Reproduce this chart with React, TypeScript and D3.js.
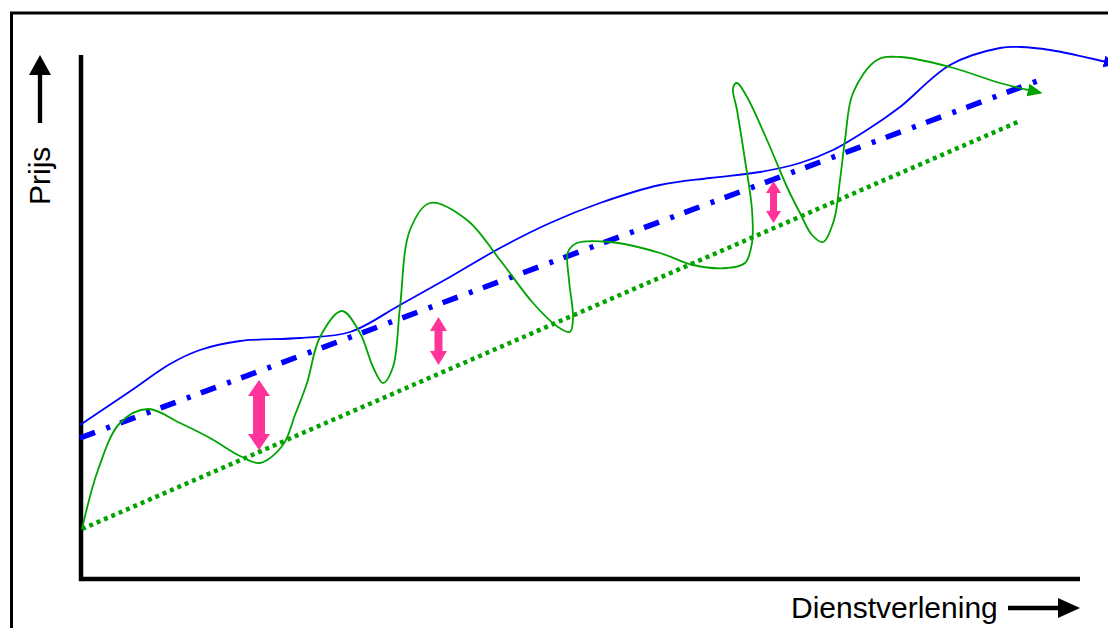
import React from 'react';
import * as d3 from 'd3';

// Data units: x = Dienstverlening (0..100), y = Prijs (0..100)
const blueTrendX = [0, 96];
const blueTrendY = [28, 99.6];

const greenTrendX = [0.2, 94];
const greenTrendY = [9.8, 91.4];

const blueCurveX = [0, 5.2, 9, 12, 16, 22, 27, 32, 37, 42, 47, 52, 58, 63, 68, 72, 75.3, 79, 82, 87, 92, 94, 97, 102.4];
const blueCurveY = [30.6, 37.6, 42.8, 45.6, 47.4, 48, 49.2, 54.6, 60.2, 66, 71, 75, 78.6, 80, 81.2, 83, 85.6, 90, 94.2, 102.6, 106, 106.2, 105.6, 103.3];

const greenCurveX = [0.2, 1.8, 4, 6.8, 10, 13, 16, 18, 20.3, 21.5, 22.7, 24, 26.2, 28, 29.3, 30.3, 31.3, 32, 33, 35, 38.7, 42, 45.3, 47.8, 49, 49.3, 48.9, 48.8, 49.7, 53, 58, 61.3, 64.7, 66.5, 67.2, 67.2, 66.5, 65.7, 65.3, 65.7, 66.7, 68.7, 70.7, 72, 73.2, 74.3, 75.4, 76, 76.5, 77.3, 79.7, 82, 87, 92, 94.8];
const greenCurveY = [9.8, 21.6, 31, 33.8, 31, 28, 24.4, 23, 26.6, 32.6, 39, 48.2, 53.4, 49, 42.2, 39, 42.2, 54.2, 69.6, 75, 71.6, 63.6, 55, 50.2, 49.2, 52, 59.6, 65.2, 67, 67.2, 65, 62.6, 62, 63, 67, 73.6, 83.6, 93.6, 98, 99, 96.2, 87.6, 78.2, 73, 68.6, 67.2, 71.6, 79.6, 87.6, 97, 103.6, 104.2, 102.2, 99, 97.6];

// gap arrows (pink)
const gapX = [17.9, 35.85, 69.35];
const gapTop = [39.6, 52.2, 79.4];
const gapBottom = [25.6, 42.6, 71];

const yLabel = 'Prijs';
const xLabel = 'Dienstverlening';

// styles
const BLUE = '#0000FF';
const GREEN = '#00A300';
const PINK = '#FF3399';
const FONT = '"Liberation Sans", Arial, Helvetica, sans-serif';
const gapStyles = [
  { headW: 22, shaftW: 12, headL: 16 },
  { headW: 17, shaftW: 8, headL: 14 },
  { headW: 15, shaftW: 7, headL: 12 },
];

export default function App() {
  const x = d3.scaleLinear().domain([0, 100]).range([80, 1080]);
  const y = d3.scaleLinear().domain([0, 100]).range([578, 78]);

  const pts = (xs: number[], ys: number[]) => xs.map((v, i) => [v, ys[i]] as [number, number]);

  const straight = d3.line<[number, number]>().x(d => x(d[0])).y(d => y(d[1]));
  const smooth = d3
    .line<[number, number]>()
    .x(d => x(d[0]))
    .y(d => y(d[1]))
    .curve(d3.curveCatmullRom.alpha(0.5));

  const arrowPath = (cx: number, top: number, bot: number, s: { headW: number; shaftW: number; headL: number }) => {
    const hw = s.headW / 2, sw = s.shaftW / 2, hl = s.headL;
    return `M${cx},${top} L${cx + hw},${top + hl} L${cx + sw},${top + hl} L${cx + sw},${bot - hl} L${cx + hw},${bot - hl} L${cx},${bot} L${cx - hw},${bot - hl} L${cx - sw},${bot - hl} L${cx - sw},${top + hl} L${cx - hw},${top + hl} Z`;
  };

  const x0 = x(0);
  const yBase = y(0);

  return (
    <svg
      width={1108}
      height={628}
      style={{ position: 'absolute', left: 0, top: 0, background: '#fff' }}
    >
      <defs>
        <marker id="greenHead" markerUnits="userSpaceOnUse" markerWidth={18} markerHeight={16} refX={0} refY={7} orient="auto">
          <path d="M0,0.5 L15,7 L0,13.5 Z" fill={GREEN} />
        </marker>
        <marker id="blueHead" markerUnits="userSpaceOnUse" markerWidth={16} markerHeight={14} refX={0} refY={6} orient="auto">
          <path d="M0,0 L13,6 L0,12 Z" fill={BLUE} />
        </marker>
      </defs>
      <rect x={0} y={0} width={1108} height={628} fill="#fff" />
      {/* frame */}
      <path d="M11.5,640 L11.5,13 L1120,13" fill="none" stroke="#000" strokeWidth={3} />

      {/* axes */}
      <line x1={x0 + 1} y1={55} x2={x0 + 1} y2={yBase + 3} stroke="#000" strokeWidth={4.5} />
      <line x1={x0 - 1} y1={yBase + 1} x2={x(100)} y2={yBase + 1} stroke="#000" strokeWidth={4.5} />

      {/* Y label */}
      <text
        transform={`translate(50,205) rotate(-90)`}
        fontFamily={FONT}
        fontSize={30}
        fill="#000"
      >
        {yLabel}
      </text>
      <line x1={40} y1={123} x2={40} y2={72} stroke="#000" strokeWidth={4.3} />
      <path d="M29,75 L40,55 L51,75 Z" fill="#000" />

      {/* X label */}
      <text x={791} y={618} fontFamily={FONT} fontSize={30} fill="#000">
        {xLabel}
      </text>
      <line x1={1008} y1={608} x2={1062} y2={608} stroke="#000" strokeWidth={4.3} />
      <path d="M1058,598 L1080,608 L1058,618 Z" fill="#000" />

      {/* green dotted trend */}
      <path
        d={straight(pts(greenTrendX, greenTrendY)) || ''}
        fill="none"
        stroke={GREEN}
        strokeWidth={4.5}
        strokeDasharray="4 4"
      />

      {/* blue dash-dot trend */}
      <path
        d={straight(pts(blueTrendX, blueTrendY)) || ''}
        fill="none"
        stroke={BLUE}
        strokeWidth={5.5}
        strokeDasharray="16 12 4 11"
      />

      {/* blue curve */}
      <path
        d={smooth(pts(blueCurveX, blueCurveY)) || ''}
        fill="none"
        stroke={BLUE}
        strokeWidth={1.8}
        markerEnd="url(#blueHead)"
      />

      {/* green curve */}
      <path
        d={smooth(pts(greenCurveX, greenCurveY)) || ''}
        fill="none"
        stroke={GREEN}
        strokeWidth={1.8}
        markerEnd="url(#greenHead)"
      />

      {/* pink gap arrows */}
      {gapX.map((gx, i) => (
        <path key={i} d={arrowPath(x(gx), y(gapTop[i]), y(gapBottom[i]), gapStyles[i])} fill={PINK} />
      ))}
    </svg>
  );
}
